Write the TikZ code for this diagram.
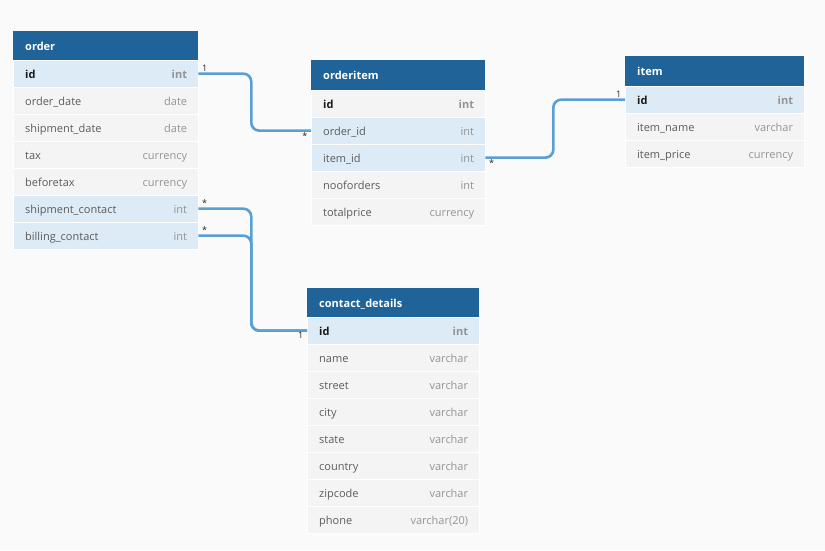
\documentclass[tikz,border=0pt]{standalone}
\usepackage{fontspec}
\setmainfont{Open Sans}

\definecolor{pagebg}{HTML}{FAFAFA}
\definecolor{hdr}{HTML}{1F6398}
\definecolor{rowbg}{HTML}{F4F4F4}
\definecolor{keybg}{HTML}{DCEBF5}
\definecolor{linkblue}{HTML}{5A9FD4}
\definecolor{fieldgray}{HTML}{5C5C5C}
\definecolor{typegray}{HTML}{949494}

\begin{document}
\begin{tikzpicture}[x=1pt, y=-1pt, font=\fontsize{11}{13}\selectfont,
  head/.style={anchor=north west, fill=hdr, text=white, font=\fontsize{11}{13}\selectfont\bfseries,
    minimum height=29pt, inner xsep=12pt, inner ysep=0pt, text height=11pt, text depth=1.5pt, align=left},
  field/.style={anchor=north west, fill=rowbg, draw=white, line width=0.3pt, text=fieldgray,
    minimum height=27pt, inner xsep=12pt, inner ysep=0pt, text height=11.5pt, text depth=1pt, align=left},
  key/.style={field, fill=keybg},
  pk/.style={text=black!90, font=\fontsize{11}{13}\selectfont\bfseries},
  ftype/.style={anchor=east, xshift=-11pt, inner sep=0pt, text height=11.5pt, text depth=1pt, text=typegray},
  pktype/.style={ftype, font=\fontsize{11}{13}\selectfont\bfseries},
  tw order/.style={text width=161pt},
  tw orderitem/.style={text width=150pt},
  tw item/.style={text width=155pt},
  tw contact/.style={text width=148pt},
  link/.style={draw=linkblue, line width=2.6pt, rounded corners=8pt},
  card/.style={font=\fontsize{9}{10}\selectfont, text=black!85, inner sep=1.5pt}]

\useasboundingbox[fill=pagebg] (0,0) rectangle (825,550);

% table order
\node[head, tw order] (order) at (13,31) {order};
\node[key, tw order, pk] (order-id) at (13,60) {id};
\node[pktype] at (order-id.east) {int};
\node[field, tw order] (order-odate) at (13,87) {order\_date};
\node[ftype] at (order-odate.east) {date};
\node[field, tw order] (order-sdate) at (13,114) {shipment\_date};
\node[ftype] at (order-sdate.east) {date};
\node[field, tw order] (order-tax) at (13,141) {tax};
\node[ftype] at (order-tax.east) {currency};
\node[field, tw order] (order-btax) at (13,168) {beforetax};
\node[ftype] at (order-btax.east) {currency};
\node[key, tw order] (order-ship) at (13,195) {shipment\_contact};
\node[ftype] at (order-ship.east) {int};
\node[key, tw order] (order-bill) at (13,222) {billing\_contact};
\node[ftype] at (order-bill.east) {int};

% table orderitem
\node[head, tw orderitem, minimum height=30pt] (orderitem) at (311,60) {orderitem};
\node[field, tw orderitem, pk] (orderitem-id) at (311,90) {id};
\node[pktype] at (orderitem-id.east) {int};
\node[key, tw orderitem] (orderitem-orderid) at (311,117) {order\_id};
\node[ftype] at (orderitem-orderid.east) {int};
\node[key, tw orderitem] (orderitem-itemid) at (311,144) {item\_id};
\node[ftype] at (orderitem-itemid.east) {int};
\node[field, tw orderitem] (orderitem-count) at (311,171) {nooforders};
\node[ftype] at (orderitem-count.east) {int};
\node[field, tw orderitem] (orderitem-total) at (311,198) {totalprice};
\node[ftype] at (orderitem-total.east) {currency};

% table item
\node[head, tw item, minimum height=30pt] (item) at (625,56) {item};
\node[key, tw item, pk] (item-id) at (625,86) {id};
\node[pktype] at (item-id.east) {int};
\node[field, tw item] (item-name) at (625,113) {item\_name};
\node[ftype] at (item-name.east) {varchar};
\node[field, tw item] (item-price) at (625,140) {item\_price};
\node[ftype] at (item-price.east) {currency};

% table contact_details
\node[head, tw contact] (contact) at (307,288) {contact\_details};
\node[key, tw contact, pk] (contact-id) at (307,317) {id};
\node[pktype] at (contact-id.east) {int};
\node[field, tw contact] (contact-name) at (307,344) {name};
\node[ftype] at (contact-name.east) {varchar};
\node[field, tw contact] (contact-street) at (307,371) {street};
\node[ftype] at (contact-street.east) {varchar};
\node[field, tw contact] (contact-city) at (307,398) {city};
\node[ftype] at (contact-city.east) {varchar};
\node[field, tw contact] (contact-state) at (307,425) {state};
\node[ftype] at (contact-state.east) {varchar};
\node[field, tw contact] (contact-country) at (307,452) {country};
\node[ftype] at (contact-country.east) {varchar};
\node[field, tw contact] (contact-zip) at (307,479) {zipcode};
\node[ftype] at (contact-zip.east) {varchar};
\node[field, tw contact] (contact-phone) at (307,506) {phone};
\node[ftype] at (contact-phone.east) {varchar(20)};

% references
\draw[link] (order-id.east) -- ++(53,0) |- (orderitem-orderid.west);
\node[card, above right, xshift=2pt] at (order-id.east) {1};
\node[card, below left, xshift=-2pt] at (orderitem-orderid.west) {*};

\draw[link] (orderitem-itemid.east) -- ++(68,0) |- (item-id.west);
\node[card, below right, xshift=2pt] at (orderitem-itemid.east) {*};
\node[card, above left, xshift=-2pt] at (item-id.west) {1};

\draw[link] (order-ship.east) -- ++(53,0) |- (contact-id.west);
\draw[link] (order-bill.east) -- ++(53,0) |- (contact-id.west);
\node[card, above right, xshift=2pt] at (order-ship.east) {*};
\node[card, above right, xshift=2pt] at (order-bill.east) {*};
\node[card, below left, xshift=-2pt] at (contact-id.west) {1};

\end{tikzpicture}
\end{document}
